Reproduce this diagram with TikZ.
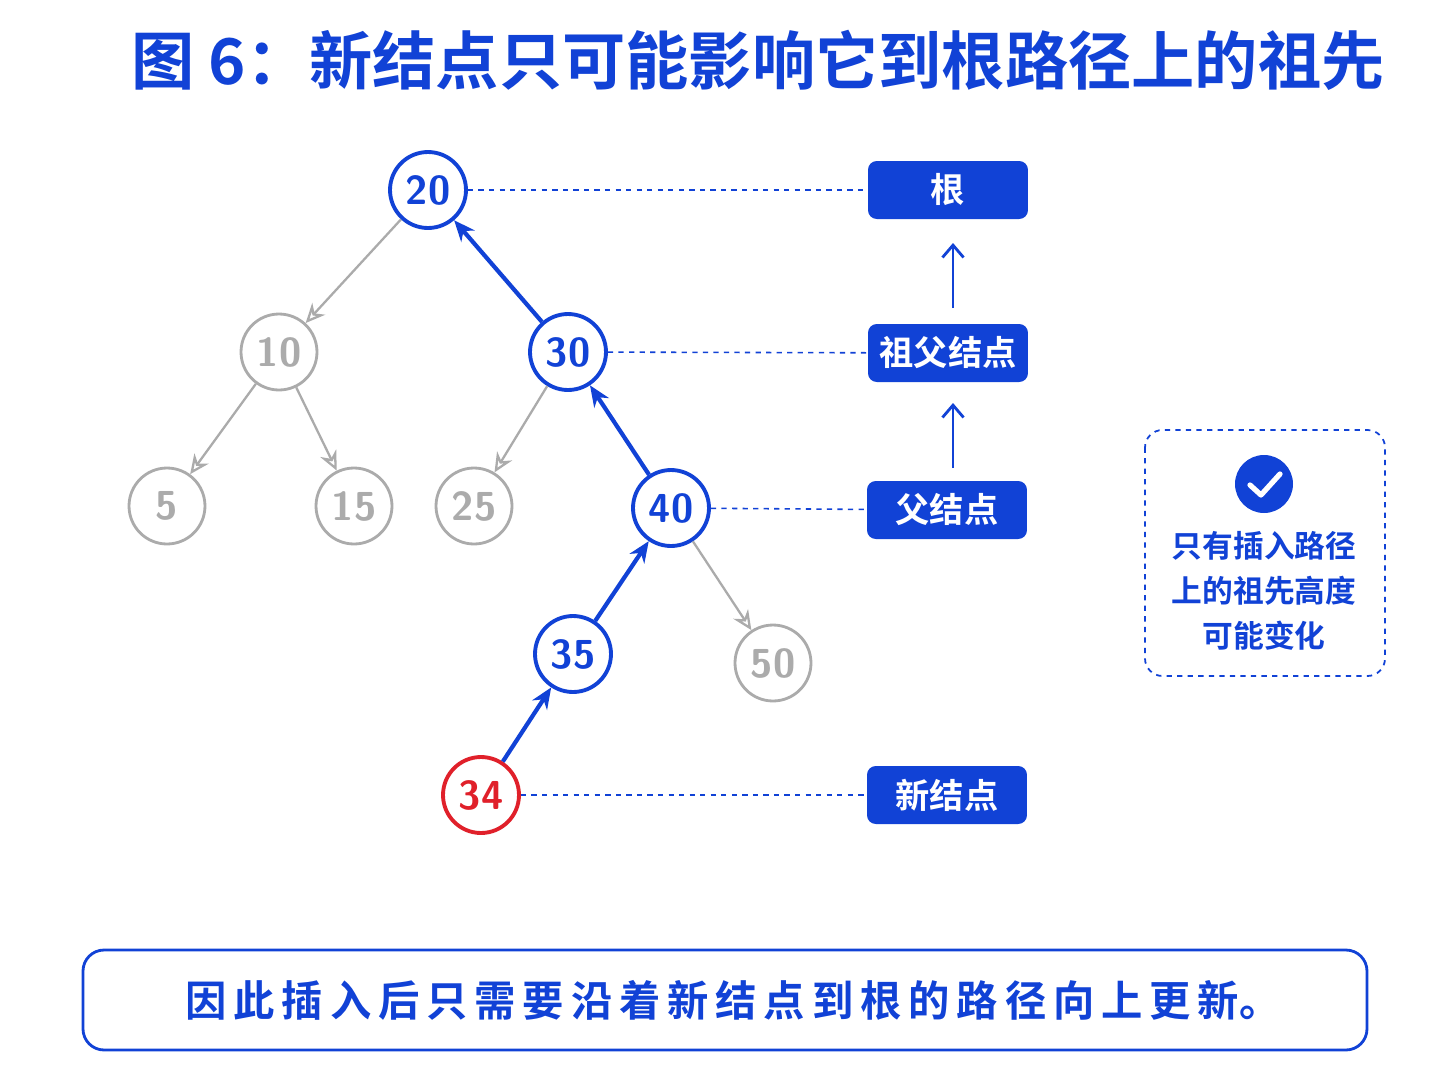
\documentclass[tikz,border=0pt]{standalone}
\usepackage{fontspec}
\newfontfamily\cjk{Noto Sans CJK SC}[BoldFont={Noto Sans CJK SC Bold}]
\usetikzlibrary{arrows.meta}
\definecolor{bl}{HTML}{1142D6}
\definecolor{rd}{HTML}{E0202A}
\definecolor{gr}{HTML}{ABABAB}
\begin{document}
\begin{tikzpicture}[x=0.02cm,y=-0.02cm,
  nd/.style={circle,draw=bl,line width=2.2pt,minimum size=1.52cm,inner sep=0,font=\fontsize{23}{23}\selectfont\bfseries\sffamily,text=bl,fill=white},
  gn/.style={nd,draw=gr,text=gr,line width=1.6pt},
  rn/.style={nd,draw=rd,text=rd},
  lb/.style={rectangle,rounded corners=5pt,fill=bl,text=white,minimum width=3.2cm,minimum height=1.16cm,font=\cjk\bfseries\fontsize{19.5}{19.5}\selectfont},
  ge/.style={draw=gr,line width=1.3pt,-{Stealth[length=11pt,width=10pt,open]}},
  be/.style={draw=bl,line width=2.4pt,-{Stealth[length=12pt,width=10pt]}},
  dl/.style={draw=bl,dashed,line width=0.9pt}]
\useasboundingbox (0,0) rectangle (1448,1086);
\fill[white] (0,0) rectangle (1448,1086);
\node[font=\cjk\bfseries\fontsize{36}{36}\selectfont,text=bl] (title) at (758,60) {图 6：新结点只可能影响它到根路径上的祖先};
\node[nd] (n20) at (428,190) {20};
\node[gn] (n10) at (279,352) {10};
\node[nd] (n30) at (568,352) {30};
\node[gn] (n5) at (167,506) {5};
\node[gn] (n15) at (354,506) {15};
\node[gn] (n25) at (474,506) {25};
\node[nd] (n40) at (671,508) {40};
\node[nd] (n35) at (573,654) {35};
\node[gn] (n50) at (773,663) {50};
\node[rn] (n34) at (481,795) {34};
\draw[ge] (n20) -- (n10);
\draw[ge] (n10) -- (n5);
\draw[ge] (n10) -- (n15);
\draw[ge] (n30) -- (n25);
\draw[ge] (n40) -- (n50);
\draw[be] (n34) -- (n35);
\draw[be] (n35) -- (n40);
\draw[be] (n40) -- (n30);
\draw[be] (n30) -- (n20);
\node[lb] (b1) at (948,190) {根};
\node[lb] (b2) at (948,353) {祖父结点};
\node[lb] (b3) at (947,510) {父结点};
\node[lb] (b4) at (947,795) {新结点};
\draw[dl] (n20) -- (b1);
\draw[dl] (n30) -- (b2);
\draw[dl] (n40) -- (b3);
\draw[dl] (n34) -- (b4);
\coordinate (a1) at (953,308); \coordinate (a2) at (953,243);
\coordinate (a3) at (953,468); \coordinate (a4) at (953,403);
\draw[bl,line width=1.6pt,-{Straight Barb[length=7pt,width=12pt]}] (a1) -- (a2);
\draw[bl,line width=1.6pt,-{Straight Barb[length=7pt,width=12pt]}] (a3) -- (a4);
\draw[bl,dashed,line width=1pt,rounded corners=10pt] (1145,430) rectangle (1385,676);
\node[circle,fill=bl,minimum size=1.16cm,inner sep=0] (ck) at (1264,484) {};
\draw[white,line width=3pt,line cap=round,line join=round] (1250,485) -- (1261,495) -- (1280,474);
\node[align=center,text=bl,font=\cjk\bfseries\fontsize{17.5}{25.6}\selectfont] (note) at (1264,591) {只有插入路径\\上的祖先高度\\可能变化};
\draw[bl,line width=1.6pt,rounded corners=12pt] (83,950) rectangle (1367,1050);
\node[text=bl,font=\cjk\bfseries\fontsize{24}{24}\selectfont,xscale=0.98] (bot) at (733,1000) {因\,此\,插\,入\,后\,只\,需\,要\,沿\,着\,新\,结\,点\,到\,根\,的\,路\,径\,向\,上\,更\,新。};
\end{tikzpicture}
\end{document}
